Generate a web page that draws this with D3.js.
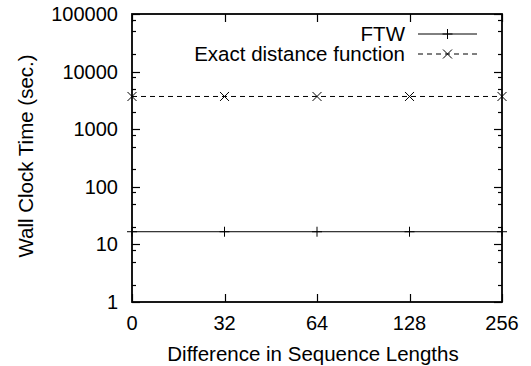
<!DOCTYPE html>
<html>
<head>
<meta charset="utf-8">
<script src="https://cdn.jsdelivr.net/npm/d3@7"></script>
<style>
  html, body { margin: 0; padding: 0; background: #fff; }
  svg text { font-family: "Liberation Sans", Arial, sans-serif; fill: #000; }
</style>
</head>
<body>
<svg id="chart" width="531" height="366"></svg>
<script>
// Difference in sequence lengths (categorical x positions)
const categories = ["0", "32", "64", "128", "256"];
// Wall clock time in seconds for each method
const ftwTimes = [16.6, 16.6, 16.6, 16.6, 16.6];
const exactTimes = [3700, 3700, 3700, 3700, 3700];
// Y axis decades and minor tick multipliers
const yMajorTicks = [1, 10, 100, 1000, 10000, 100000];
const yMinorMultipliers = [2, 5, 8];

const series = [
  { name: "FTW", values: ftwTimes, dash: null, marker: "plus" },
  { name: "Exact distance function", values: exactTimes, dash: "5,4", marker: "cross" }
];

const svg = d3.select("#chart");
const m = { left: 132, right: 502, top: 14, bottom: 302 };
const tickFont = 20;
const titleFont = 20.5;

const x = d3.scalePoint().domain(categories).range([m.left, m.right]);
const y = d3.scaleLog().domain([1, 100000]).range([m.bottom, m.top]);

const minorTicks = [];
yMajorTicks.slice(0, -1).forEach(d => yMinorMultipliers.forEach(k => minorTicks.push(d * k)));

const g = svg.append("g");

// Y ticks, inward on both sides
const majorLen = 8, minorLen = 4;
function yTicks(values, len) {
  g.selectAll(null).data(values).enter().append("line")
    .attr("x1", m.left).attr("x2", m.left + len)
    .attr("y1", d => Math.round(y(d)) + 0.5).attr("y2", d => Math.round(y(d)) + 0.5)
    .attr("stroke", "#000").attr("stroke-width", 1.2);
  g.selectAll(null).data(values).enter().append("line")
    .attr("x1", m.right).attr("x2", m.right - len)
    .attr("y1", d => Math.round(y(d)) + 0.5).attr("y2", d => Math.round(y(d)) + 0.5)
    .attr("stroke", "#000").attr("stroke-width", 1.2);
}
yTicks(yMajorTicks, majorLen);
yTicks(minorTicks, minorLen);

// X ticks, inward on bottom and top
g.selectAll(null).data(categories).enter().append("line")
  .attr("x1", d => Math.round(x(d)) + 0.5).attr("x2", d => Math.round(x(d)) + 0.5)
  .attr("y1", m.bottom).attr("y2", m.bottom - majorLen)
  .attr("stroke", "#000").attr("stroke-width", 1.2);
g.selectAll(null).data(categories).enter().append("line")
  .attr("x1", d => Math.round(x(d)) + 0.5).attr("x2", d => Math.round(x(d)) + 0.5)
  .attr("y1", m.top).attr("y2", m.top + majorLen)
  .attr("stroke", "#000").attr("stroke-width", 1.2);

// Frame
g.append("rect")
  .attr("x", m.left).attr("y", m.top)
  .attr("width", m.right - m.left).attr("height", m.bottom - m.top)
  .attr("fill", "none").attr("stroke", "#000").attr("stroke-width", 1.8);

// Y tick labels
g.selectAll(null).data(yMajorTicks).enter().append("text")
  .attr("x", 118).attr("y", d => y(d)).attr("dy", "0.35em")
  .attr("text-anchor", "end").attr("font-size", tickFont)
  .text(d => d3.format("d")(d));

// X tick labels
g.selectAll(null).data(categories).enter().append("text")
  .attr("x", d => x(d)).attr("y", 330)
  .attr("text-anchor", "middle").attr("font-size", tickFont)
  .text(d => d);

// Axis titles
g.append("text")
  .attr("x", 313).attr("y", 361)
  .attr("text-anchor", "middle").attr("font-size", titleFont)
  .text("Difference in Sequence Lengths");
g.append("text")
  .attr("transform", "translate(33,156) rotate(-90)")
  .attr("text-anchor", "middle").attr("font-size", titleFont)
  .text("Wall Clock Time (sec.)");

// Marker paths
function markerPath(type, cx, cy) {
  if (type === "plus") {
    const s = 5;
    return `M${cx - s},${cy}H${cx + s}M${cx},${cy - s}V${cy + s}`;
  }
  const s = 4.5;
  return `M${cx - s},${cy - s}L${cx + s},${cy + s}M${cx - s},${cy + s}L${cx + s},${cy - s}`;
}

const line = d3.line().x(d => d.x).y(d => d.y);

series.forEach(s => {
  const pts = s.values.map((v, i) => ({ x: x(categories[i]), y: y(v) }));
  g.append("path")
    .attr("d", line(pts))
    .attr("fill", "none").attr("stroke", "#000").attr("stroke-width", 1)
    .attr("stroke-dasharray", s.dash);
  g.selectAll(null).data(pts).enter().append("path")
    .attr("d", p => markerPath(s.marker, p.x, p.y))
    .attr("fill", "none").attr("stroke", "#000").attr("stroke-width", 1);
});

// Legend
const legend = g.append("g");
series.forEach((s, i) => {
  const cy = 34 + i * 20;
  legend.append("text")
    .attr("x", 405).attr("y", cy).attr("dy", "0.35em")
    .attr("text-anchor", "end").attr("font-size", titleFont)
    .text(s.name);
  legend.append("line")
    .attr("x1", 418).attr("x2", 477).attr("y1", cy).attr("y2", cy)
    .attr("stroke", "#000").attr("stroke-width", 1)
    .attr("stroke-dasharray", s.dash);
  legend.append("path")
    .attr("d", markerPath(s.marker, 447.5, cy))
    .attr("fill", "none").attr("stroke", "#000").attr("stroke-width", 1);
});
</script>
</body>
</html>
